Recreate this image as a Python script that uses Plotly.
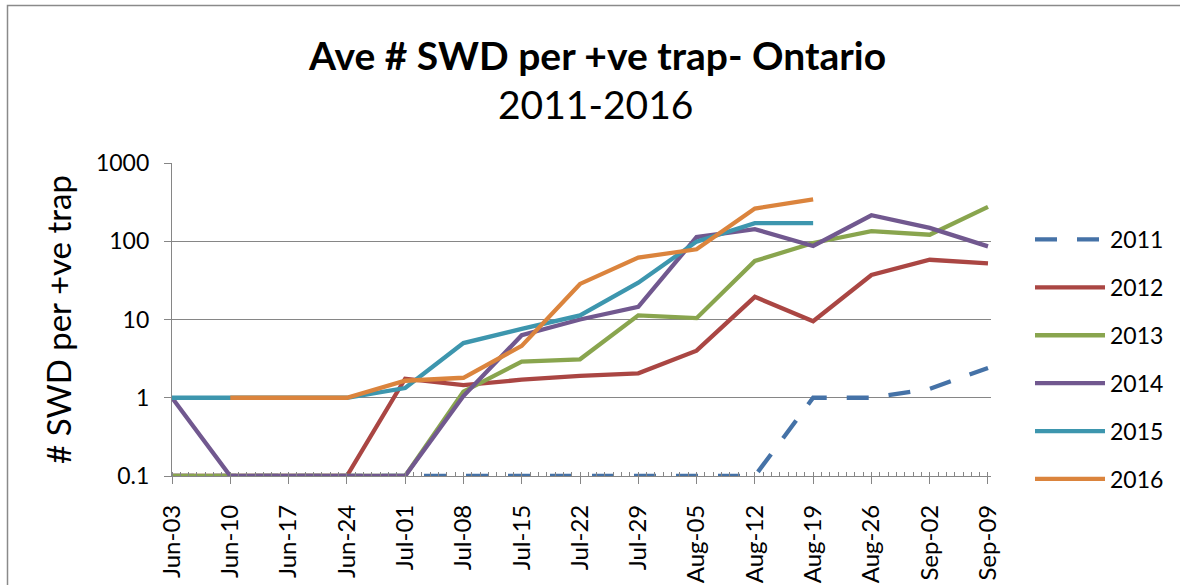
import plotly.graph_objects as go

dates = ["2016-06-03", "2016-06-10", "2016-06-17", "2016-06-24", "2016-07-01",
         "2016-07-08", "2016-07-15", "2016-07-22", "2016-07-29", "2016-08-05",
         "2016-08-12", "2016-08-19", "2016-08-26", "2016-09-02", "2016-09-09"]

y2011 = [0.1, 0.1, 0.1, 0.1, 0.1, 0.1, 0.1, 0.1, 0.1, 0.1, 0.1, 1.0, 1.0, 1.3, 2.4]
y2012 = [0.1, 0.1, 0.1, 0.1, 1.75, 1.45, 1.7, 1.9, 2.05, 4.0, 19.5, 9.5, 37, 58, 52]
y2013 = [0.1, 0.1, 0.1, 0.1, 0.1, 1.2, 2.9, 3.1, 11.3, 10.4, 56, 95, 135, 121, 275]
y2014 = [1.0, 0.1, 0.1, 0.1, 0.1, 1.05, 6.3, 10, 14.5, 113, 143, 87, 215, 148, 86]
y2015 = [1.0, 1.0, 1.0, 1.0, 1.33, 5.0, 7.6, 11.3, 29.5, 99, 170, 170, None, None, None]
y2016 = [None, 1.0, 1.0, 1.0, 1.65, 1.8, 4.6, 28.5, 62, 79, 262, 342, None, None, None]

series_names = ["2011", "2012", "2013", "2014", "2015", "2016"]
series_values = [y2011, y2012, y2013, y2014, y2015, y2016]
colors = ["#4572A7", "#AA4643", "#89A54E", "#71588F", "#3D96AE", "#DB843D"]
dashes = ["22px,20px", "solid", "solid", "solid", "solid", "solid"]

ytick_vals = [0.1, 1, 10, 100, 1000]
ytick_text = ["0.1", "1", "10", "100", "1000"]

FONT = "Lato"
GRID = "#868686"

fig = go.Figure()
for i, (name, vals) in enumerate(zip(series_names, series_values)):
    fig.add_trace(go.Scatter(
        x=dates, y=vals, name=name, mode="lines",
        line=dict(color=colors[i], width=4.3, dash=dashes[i]),
        legendgroup=name, connectgaps=False,
    ))

SW, SH = 1180, 585
# plot area in screen pixels
L, R, T, B = 172, 991, 163, 476
pw, ph = R - L, B - T

def px(x):
    return (x - L) / pw

def py(y):
    return (B - y) / ph

fig.update_layout(
    width=SW, height=SH,
    margin=dict(l=L, r=SW - R, t=T, b=SH - B, pad=0, autoexpand=False),
    paper_bgcolor="white", plot_bgcolor="white",
    font=dict(family=FONT, color="black"),
    showlegend=True,
    legend=dict(
        x=px(1030), xanchor="left", y=py(218), yanchor="top",
        font=dict(size=23, family=FONT, color="black"),
        tracegroupgap=15, itemwidth=70, bgcolor="rgba(0,0,0,0)",
    ),
    xaxis=dict(
        type="date", automargin=False,
        range=["2016-06-03", "2016-09-09 08:40"],
        tick0="2016-06-03", dtick=7 * 86400000,
        tickformat="%b-%d", tickangle=-90,
        ticks="outside", ticklen=7, tickcolor=GRID, tickwidth=1.3,
        tickfont=dict(size=24, family=FONT),
        ticklabelstandoff=11,
        showline=True, linecolor=GRID, linewidth=1.3,
        showgrid=False, zeroline=False,
        minor=dict(dtick=86400000, ticks="inside", ticklen=4,
                   tickcolor=GRID, tickwidth=1.3, showgrid=False),
    ),
    yaxis=dict(
        type="log", range=[-1, 3], automargin=False,
        tickvals=ytick_vals, ticktext=ytick_text,
        ticks="outside", ticklen=7, tickcolor=GRID, tickwidth=1.3,
        tickfont=dict(size=23, family=FONT),
        ticklabelstandoff=10,
        showline=True, linecolor=GRID, linewidth=1.3,
        showgrid=True, gridcolor=GRID, gridwidth=1.3,
        zeroline=False,
        title=dict(text="# SWD per +ve trap", font=dict(size=33, family=FONT), standoff=14),
    ),
    annotations=[
        dict(text="<b>Ave # SWD per +ve trap- Ontario</b>", xref="paper", yref="paper",
             x=px(597), y=py(55), xanchor="center", yanchor="middle", showarrow=False,
             font=dict(size=39, family=FONT, color="black")),
        dict(text="2011-2016", xref="paper", yref="paper",
             x=px(595), y=py(104), xanchor="center", yanchor="middle", showarrow=False,
             font=dict(size=39, family=FONT, color="black")),
    ],
    shapes=[
        dict(type="rect", xref="paper", yref="paper",
             x0=px(7.5), x1=px(1195), y0=py(600), y1=py(5.5),
             line=dict(color="#8a8a8a", width=1.5), fillcolor="rgba(0,0,0,0)", layer="below"),
    ],
)

fig.write_html(
    "out.html", config={"displayModeBar": False},
    post_script=("document.body.style.margin='0';"
                 "document.body.style.overflow='hidden';"
                 "document.documentElement.style.overflow='hidden';"),
)
